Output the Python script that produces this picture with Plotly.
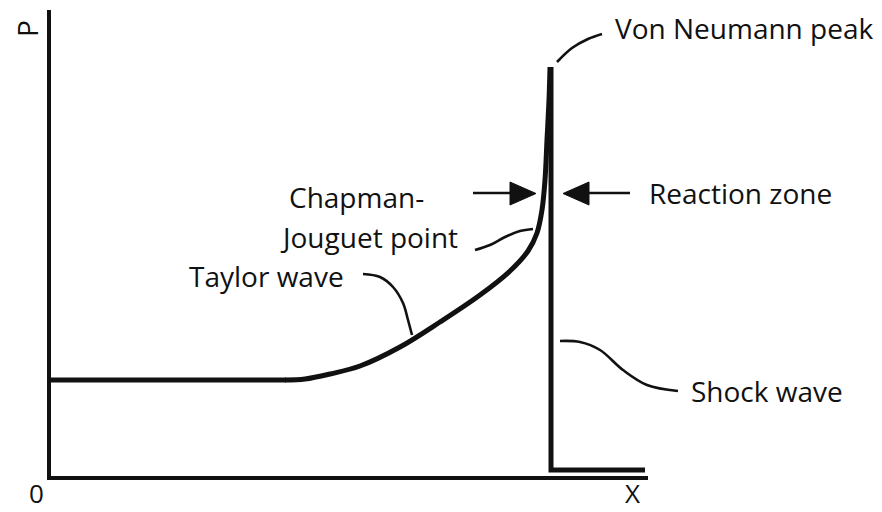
import plotly.graph_objects as go

# Pixel-space schematic (x to the right, y downward)
axis_x = [49, 49, 648]
axis_y = [10, 478, 478]

# Pressure profile: flat, Taylor wave, CJ point, Von Neumann spike
flat_x = [49, 286]
flat_y = [380, 380]
curve_x = [285, 305, 330, 360, 400, 440, 480, 510, 528, 537, 542, 545, 547, 549, 550]
curve_y = [380, 379, 374, 366, 347, 322, 295, 271, 251, 233, 210, 180, 140, 100, 67]

# Shock front and undisturbed region
shock_x = [551, 551, 645]
shock_y = [67, 470, 470]

# Leader lines
vn_x = [557, 572, 588, 602]
vn_y = [62, 48, 39, 34]
cj_x = [475, 490, 505, 520, 533]
cj_y = [250, 245, 237, 231, 229]
tw_x = [363, 380, 393, 403, 408, 412]
tw_y = [274, 277, 287, 303, 320, 335]
sw_x = [560, 580, 600, 623, 647, 678]
sw_y = [341, 342, 350, 370, 385, 391]

# Reaction-zone arrows
arrL_line_x = [473, 512]
arrL_line_y = [193, 193]
arrL_head_x = [510, 536, 510, 510]
arrL_head_y = [182, 193.5, 205, 182]
arrR_line_x = [586, 630]
arrR_line_y = [193, 193]
arrR_head_x = [589, 563, 589, 589]
arrR_head_y = [182, 193.5, 205, 182]

labels = ["Von Neumann peak", "Reaction zone", "Chapman-", "Jouguet point", "Taylor wave", "Shock wave"]
label_x = [613, 647, 356, 369, 187, 689]
label_y = [28, 193, 197, 237, 276, 391]
label_anchor = ["left", "left", "center", "center", "left", "left"]

fig = go.Figure()
K = "#111111"

def line(x, y, w):
    fig.add_trace(go.Scatter(x=x, y=y, mode="lines", line=dict(color=K, width=w),
                             hoverinfo="skip", showlegend=False))

def sline(x, y, w, s=1.0):
    fig.add_trace(go.Scatter(x=x, y=y, mode="lines", line=dict(color=K, width=w, shape="spline", smoothing=s),
                             hoverinfo="skip", showlegend=False))

line(axis_x, axis_y, 4)
line(flat_x, flat_y, 5)
sline(curve_x, curve_y, 5, 1.0)
line(shock_x, shock_y, 5)
for lx, ly in [(vn_x, vn_y), (cj_x, cj_y), (tw_x, tw_y), (sw_x, sw_y)]:
    sline(lx, ly, 2.6)
line(arrL_line_x, arrL_line_y, 2.6)
line(arrR_line_x, arrR_line_y, 2.6)
for hx, hy in [(arrL_head_x, arrL_head_y), (arrR_head_x, arrR_head_y)]:
    fig.add_trace(go.Scatter(x=hx, y=hy, mode="lines", fill="toself", fillcolor=K,
                             line=dict(color=K, width=1), hoverinfo="skip", showlegend=False))

FONT = "Open Sans"
for t, x, y, a in zip(labels, label_x, label_y, label_anchor):
    fig.add_annotation(x=x, y=y, text=t, showarrow=False, xanchor=a, yanchor="middle",
                       font=dict(family=FONT, size=28, color=K))

fig.add_annotation(x=27, y=29, text="P", showarrow=False, textangle=-90,
                   font=dict(family=FONT, size=28, color=K))
fig.add_annotation(x=36, y=493, text="0", showarrow=False,
                   font=dict(family=FONT, size=26, color=K))
fig.add_annotation(x=632, y=493, text="X", showarrow=False,
                   font=dict(family=FONT, size=26, color=K))

# The page has an 8px body margin, so the figure is placed at (8, 8)
# and the axis ranges are offset to keep pixel coordinates aligned.
fig.update_layout(
    width=874, height=504,
    margin=dict(l=0, r=0, t=0, b=0),
    paper_bgcolor="white", plot_bgcolor="white",
    xaxis=dict(range=[8, 882], visible=False, fixedrange=True),
    yaxis=dict(range=[512, 8], visible=False, fixedrange=True),
    showlegend=False,
)

fig.write_html("out.html", config={"displayModeBar": False})
